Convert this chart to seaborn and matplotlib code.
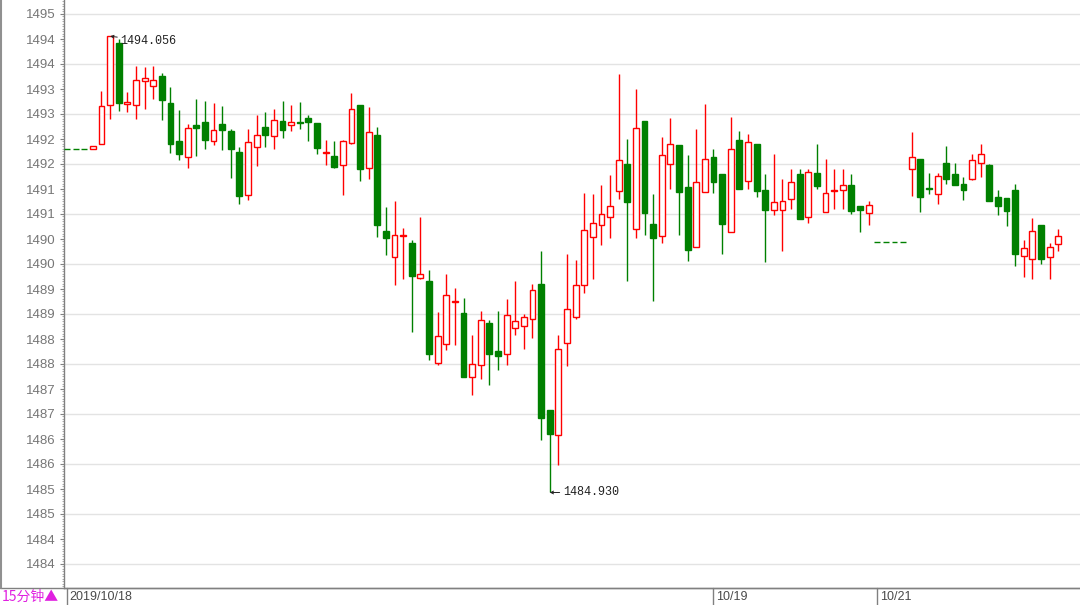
import numpy as np
import pandas as pd
import matplotlib
matplotlib.use("Agg")
import matplotlib.pyplot as plt
import matplotlib.transforms as mtransforms
from matplotlib.lines import Line2D
from matplotlib.ticker import MultipleLocator
import seaborn as sns

# ---------------- data (15-minute candles) ----------------
opens = [1491.80, 1491.80, 1491.80, 1491.80, 1491.89, 1492.67, 1493.91, 1492.71, 1492.67, 1493.16,
         1493.07, 1493.25, 1492.71, 1491.95, 1491.63, 1492.28, 1492.35, 1491.95, 1492.29, 1492.16,
         1491.73, 1490.88, 1491.85, 1492.23, 1492.07, 1492.36, 1492.29, 1492.34, 1492.41, 1492.31,
         1491.73, 1491.65, 1491.49, 1491.91, 1492.67, 1491.41, 1492.09, 1490.15, 1489.63, 1490.06,
         1489.91, 1489.23, 1489.15, 1487.53, 1487.90, 1488.74, 1488.53, 1487.25, 1487.48, 1488.31,
         1487.76, 1487.69, 1488.23, 1488.26, 1488.39, 1489.09, 1486.58, 1486.09, 1487.91, 1488.43,
         1489.08, 1490.05, 1490.29, 1490.43, 1490.96, 1491.50, 1490.21, 1492.36, 1490.30, 1490.06,
         1491.50, 1491.87, 1491.03, 1489.85, 1490.93, 1491.63, 1491.29, 1490.13, 1491.98, 1491.16,
         1491.89, 1490.97, 1490.59, 1490.59, 1490.80, 1491.30, 1490.43, 1491.33, 1490.55, 1490.96,
         1490.98, 1491.09, 1490.65, 1490.53, 1489.93, 1489.93, 1489.93, 1489.93, 1491.40, 1491.60,
         1491.03, 1490.90, 1491.53, 1491.30, 1491.11, 1491.19, 1491.53, 1491.48, 1490.83, 1490.81,
         1490.99, 1489.65, 1489.61, 1490.28, 1489.63, 1489.90]
highs = [1491.80, 1491.80, 1491.80, 1491.86, 1492.95, 1494.056, 1494.01, 1492.93, 1493.47, 1493.43,
         1493.45, 1493.33, 1493.05, 1492.58, 1492.31, 1492.81, 1492.76, 1492.73, 1492.65, 1492.20,
         1491.85, 1492.20, 1492.48, 1492.55, 1492.60, 1492.76, 1492.67, 1492.75, 1492.49, 1492.32,
         1491.98, 1491.96, 1491.98, 1492.91, 1492.67, 1492.63, 1492.25, 1490.63, 1490.76, 1490.23,
         1489.98, 1490.43, 1489.38, 1488.55, 1489.31, 1489.03, 1488.83, 1488.08, 1488.56, 1488.38,
         1488.56, 1488.81, 1489.15, 1488.50, 1489.11, 1489.77, 1486.58, 1488.08, 1489.70, 1489.58,
         1490.91, 1490.89, 1491.09, 1491.29, 1493.31, 1492.00, 1493.00, 1492.36, 1490.89, 1492.05,
         1492.41, 1491.87, 1491.67, 1492.20, 1492.69, 1491.80, 1491.29, 1492.43, 1492.16, 1492.11,
         1491.89, 1491.30, 1491.70, 1491.20, 1491.40, 1491.40, 1491.40, 1491.89, 1491.60, 1491.40,
         1491.40, 1491.30, 1490.65, 1490.76, 1489.93, 1489.93, 1489.93, 1489.93, 1492.13, 1491.60,
         1491.33, 1491.33, 1491.87, 1491.53, 1491.25, 1491.71, 1491.90, 1491.51, 1490.99, 1490.81,
         1491.10, 1489.99, 1490.41, 1490.28, 1489.91, 1490.21]
lows = [1491.80, 1491.80, 1491.80, 1491.80, 1491.89, 1492.39, 1492.56, 1492.55, 1492.39, 1492.61,
        1492.80, 1492.38, 1491.73, 1491.58, 1491.41, 1491.65, 1491.81, 1491.88, 1491.78, 1491.23,
        1490.70, 1490.78, 1491.45, 1491.85, 1491.80, 1492.03, 1492.15, 1492.21, 1491.96, 1491.69,
        1491.49, 1491.42, 1490.88, 1491.90, 1491.16, 1491.20, 1490.05, 1489.68, 1489.08, 1489.20,
        1488.13, 1489.20, 1487.58, 1487.48, 1487.79, 1487.88, 1487.25, 1486.88, 1487.19, 1487.09,
        1487.38, 1487.48, 1488.08, 1487.81, 1488.03, 1485.99, 1484.93, 1485.48, 1487.46, 1488.40,
        1488.91, 1489.21, 1489.88, 1490.03, 1490.81, 1489.15, 1490.03, 1490.08, 1488.76, 1489.91,
        1491.01, 1490.09, 1489.56, 1489.85, 1490.93, 1490.91, 1489.69, 1490.13, 1491.01, 1491.01,
        1490.85, 1489.55, 1490.49, 1489.77, 1490.60, 1490.40, 1490.33, 1491.00, 1490.55, 1490.61,
        1490.60, 1490.51, 1490.13, 1490.28, 1489.93, 1489.93, 1489.93, 1489.93, 1490.86, 1490.55,
        1490.90, 1490.71, 1491.10, 1491.08, 1490.78, 1491.17, 1491.25, 1490.76, 1490.48, 1490.26,
        1489.45, 1489.25, 1489.21, 1489.50, 1489.21, 1489.76]
closes = [1491.80, 1491.80, 1491.80, 1491.86, 1492.66, 1494.056, 1492.73, 1492.74, 1493.18, 1493.21,
          1493.18, 1492.78, 1491.89, 1491.69, 1492.21, 1492.23, 1491.98, 1492.18, 1492.18, 1491.81,
          1490.87, 1491.93, 1492.07, 1492.09, 1492.38, 1492.18, 1492.35, 1492.32, 1492.35, 1491.83,
          1491.75, 1491.43, 1491.96, 1492.59, 1491.40, 1492.13, 1490.29, 1490.03, 1490.08, 1490.08,
          1489.27, 1489.30, 1487.71, 1488.07, 1488.88, 1488.76, 1487.25, 1487.51, 1488.38, 1487.69,
          1487.65, 1488.47, 1488.36, 1488.43, 1488.98, 1486.41, 1486.11, 1487.80, 1488.59, 1489.08,
          1490.18, 1490.33, 1490.49, 1490.65, 1491.58, 1490.75, 1492.23, 1490.53, 1490.03, 1491.67,
          1491.90, 1490.93, 1489.78, 1491.13, 1491.59, 1491.13, 1490.31, 1491.80, 1491.01, 1491.93,
          1490.96, 1490.58, 1490.73, 1490.75, 1491.13, 1490.40, 1491.33, 1491.06, 1490.91, 1490.98,
          1491.09, 1490.56, 1490.58, 1490.67, 1489.93, 1489.93, 1489.93, 1489.93, 1491.63, 1490.85,
          1491.01, 1491.26, 1491.21, 1491.08, 1490.99, 1491.57, 1491.69, 1490.76, 1490.65, 1490.57,
          1489.71, 1489.81, 1490.15, 1489.61, 1489.83, 1490.05]

ytick_values = [1483.5, 1484.0, 1484.5, 1485.0, 1485.5, 1486.0, 1486.5, 1487.0, 1487.5, 1488.0,
                1488.5, 1489.0, 1489.5, 1490.0, 1490.5, 1491.0, 1491.5, 1492.0, 1492.5, 1493.0,
                1493.5, 1494.0, 1494.5]
ytick_labels = ["1484", "1484", "1485", "1485", "1486", "1486", "1487", "1487", "1488", "1488",
                "1489", "1489", "1490", "1490", "1491", "1491", "1492", "1492", "1493", "1493",
                "1494", "1494", "1495"]
grid_values = [1483.5, 1484.5, 1485.5, 1486.5, 1487.5, 1488.5, 1489.5, 1490.5, 1491.5, 1492.5,
               1493.5, 1494.5]
date_positions = [0, 75, 94]
date_labels = ["2019/10/18", "10/19", "10/21"]
period_label = "15分钟▲"
max_index, max_label = 5, "1494.056"
min_index, min_label = 56, "1484.930"

# ---------------- style ----------------
sns.set_style("white")
plt.rcParams['font.family'] = ['Liberation Sans', 'DejaVu Sans']

W, H = 1080, 605
fig = plt.figure(figsize=(W / 100, H / 100), dpi=100)
fig.patch.set_facecolor("white")
ax = fig.add_axes([64 / W, (H - 588) / H, (W - 64) / W, 588 / H])

df = pd.DataFrame(dict(open=opens, high=highs, low=lows, close=closes))
df["idx"] = np.arange(len(df))
up = df["close"] > df["open"]
dn = ~up

RED = "#ff0000"
GREEN = "#008000"
width = 0.68

# grid
for g in grid_values:
    ax.axhline(g, color="#e3e3e3", lw=1.0, zorder=0)

# wicks
ax.vlines(df["idx"][up], df["low"][up], df["high"][up], color=RED, lw=1.0, zorder=2)
ax.vlines(df["idx"][dn], df["low"][dn], df["high"][dn], color=GREEN, lw=1.0, zorder=2)
# bodies
ax.bar(df["idx"][up], (df["close"] - df["open"])[up], bottom=df["open"][up], width=width,
       facecolor="white", edgecolor=RED, linewidth=1.0, zorder=3)
ax.bar(df["idx"][dn], (df["open"] - df["close"])[dn], bottom=df["close"][dn], width=width,
       facecolor=GREEN, edgecolor=GREEN, linewidth=1.0, zorder=3)

ax.set_xlim(-0.35, 117.52)
ax.set_ylim(1483.02, 1494.78)

# axes styling
for s in ["top", "right"]:
    ax.spines[s].set_visible(False)
ax.spines["left"].set_color("#808080")
ax.spines["bottom"].set_color("#808080")
ax.spines["left"].set_linewidth(1.0)
ax.spines["bottom"].set_linewidth(1.0)
ax.set_xticks([])
ax.set_yticks(ytick_values)
ax.set_yticklabels(ytick_labels)
ax.yaxis.set_minor_locator(MultipleLocator(0.05))
ax.tick_params(axis="y", which="major", direction="out", length=3, width=0.8,
               color="#808080", labelsize=9.5, labelcolor="#767676", pad=3, left=True)
ax.tick_params(axis="y", which="minor", direction="out", length=1.5, width=0.6,
               color="#a0a0a0", left=True)

# annotations of extremes
ann_kw = dict(family="Liberation Mono", fontsize=8.5, color="#222222")
ax.annotate(max_label, xy=(max_index, highs[max_index]), xytext=(7.5, -3.6),
            textcoords="offset points", ha="left", va="center",
            arrowprops=dict(arrowstyle="->", color="#222222", lw=0.7, mutation_scale=5,
                            shrinkA=0, shrinkB=0), zorder=5, **ann_kw)
ax.annotate(min_label, xy=(min_index, lows[min_index]), xytext=(9.5, 0),
            textcoords="offset points", ha="left", va="center",
            arrowprops=dict(arrowstyle="->", color="#222222", lw=0.7, mutation_scale=5,
                            shrinkA=0, shrinkB=0), zorder=5, **ann_kw)

# date markers below the axis
trans = mtransforms.blended_transform_factory(ax.transData, ax.transAxes)
for pos, lab in zip(date_positions, date_labels):
    ax.add_line(Line2D([pos, pos], [0, -17 / 588], transform=trans, color="#808080",
                       lw=1.0, clip_on=False))
    ax.text(pos, -9.5 / 588, lab,
            transform=trans + mtransforms.ScaledTranslation(2.5 / 100, 0, fig.dpi_scale_trans),
            ha="left", va="center", fontsize=9, color="#4a4a4a", clip_on=False)

# period label
fig.text(2 / W, (H - 597) / H, period_label, ha="left", va="center", fontsize=10,
         color="#e020e0", family=["Noto Sans CJK SC", "DejaVu Sans"])

# frame lines of the price panel
fig.add_artist(Line2D([0, 1], [(H - 588) / H, (H - 588) / H], transform=fig.transFigure,
                      color="#808080", lw=1.0))
fig.add_artist(Line2D([1 / W, 1 / W], [(H - 588) / H, 1], transform=fig.transFigure,
                      color="#909090", lw=1.5))

fig.savefig("out.png", dpi=100, facecolor="white")
